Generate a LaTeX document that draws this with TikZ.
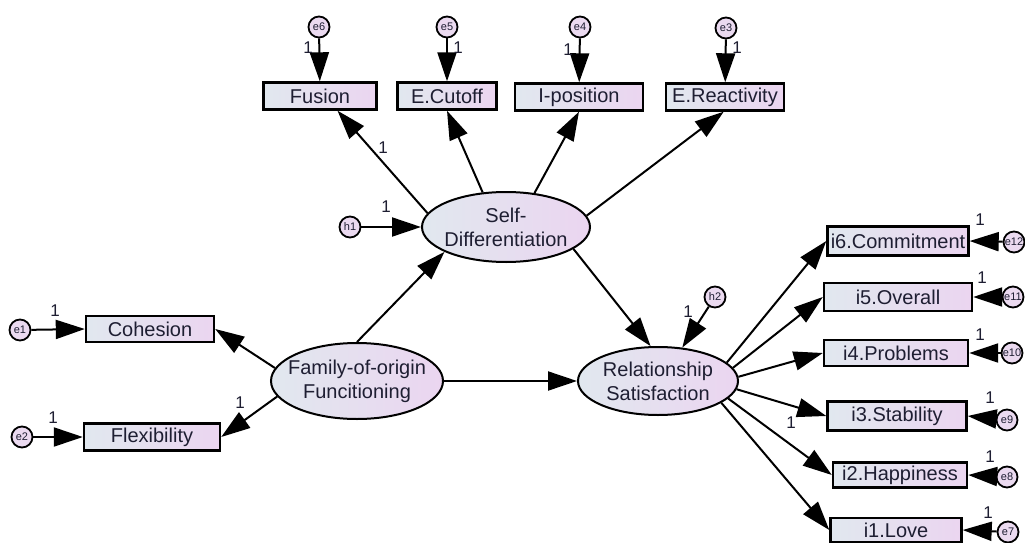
\documentclass[tikz,border=0pt]{standalone}
\usepackage{fontspec}
\setmainfont{Liberation Sans}
\usetikzlibrary{arrows.meta,shapes.geometric}
\definecolor{boxL}{HTML}{E1E8EF}
\definecolor{boxR}{HTML}{EBD5F0}
\definecolor{errF}{HTML}{EBDAF0}
\definecolor{txt}{HTML}{1E1E32}
\begin{document}
\begin{tikzpicture}[x=1pt,y=-1pt,
  obs/.style={draw=black, line width=2.4pt, left color=boxL, right color=boxR,
    inner sep=0pt, font=\fontsize{20}{24}\selectfont, text=txt},
  lat/.style={ellipse, draw=black, line width=2pt, left color=boxL, right color=boxR,
    inner xsep=-14pt, inner ysep=0pt, align=center, font=\fontsize{20}{24}\selectfont, text=txt},
  err/.style={circle, draw=black, line width=1.8pt, fill=errF, minimum size=21pt,
    inner sep=0pt, font=\fontsize{11}{12}\selectfont, text=txt},
  pth/.style={line width=2pt, -{Triangle[length=29pt,width=19pt]}},
  one/.style={inner sep=0pt, font=\fontsize{17}{17}\selectfont, text=txt}]
\useasboundingbox (0,0) rectangle (1025,543);
\clip (0,0) rectangle (1025,543);
\fill[white] (0,0) rectangle (1025,543);

% latent variables
\node[lat, minimum width=168pt, minimum height=70pt] (sd) at (506,227) {Self-\\Differentiation};
\node[lat, minimum width=172pt, minimum height=76pt] (fam) at (357,381) {Family-of-origin\\Funcitioning};
\node[lat, minimum width=160pt, minimum height=68pt] (rs) at (658,381) {Relationship\\Satisfaction};

% top indicators
\node[obs, minimum width=113pt, minimum height=27pt] (fus) at (320,96) {Fusion};
\node[obs, minimum width=99pt, minimum height=27pt] (ecut) at (447,96) {E.Cutoff};
\node[obs, minimum width=128pt, minimum height=27pt] (ipos) at (579,97) {I-position};
\node[obs, minimum width=118pt, minimum height=27pt] (ereac) at (725,97) {E.Reactivity};

% left indicators
\node[obs, minimum width=128pt, minimum height=26pt] (coh) at (150,329) {Cohesion};
\node[obs, minimum width=136pt, minimum height=27pt] (flex) at (152,437) {Flexibility};

% right indicators
\node[obs, minimum width=141pt, minimum height=29pt] (i6) at (898,241) {i6.Commitment};
\node[obs, minimum width=148pt, minimum height=28pt] (i5) at (898,297) {i5.Overall};
\node[obs, minimum width=144pt, minimum height=26pt] (i4) at (896,353) {i4.Problems};
\node[obs, minimum width=139pt, minimum height=29pt] (i3) at (897,416) {i3.Stability};
\node[obs, minimum width=134pt, minimum height=25pt] (i2) at (900,475) {i2.Happiness};
\node[obs, minimum width=131pt, minimum height=24pt] (i1) at (896,530) {i1.Love};

% error / disturbance terms
\node[err] (e6) at (319,27) {e6};
\node[err] (e5) at (447,27) {e5};
\node[err] (e4) at (580,27) {e4};
\node[err] (e3) at (726,28) {e3};
\node[err] (e1) at (20,330) {e1};
\node[err] (e2) at (22,437) {e2};
\node[err] (h1) at (350,227) {h1};
\node[err] (h2) at (715,297) {h2};
\node[err] (e12) at (1014,242) {e12};
\node[err] (e11) at (1013,297) {e11};
\node[err] (e10) at (1012,353) {e10};
\node[err] (e9) at (1007,420) {e9};
\node[err] (e8) at (1007,477) {e8};
\node[err] (e7) at (1008,532) {e7};

% paths
\draw[pth] (e6) -- (fus);
\draw[pth] (e5) -- (ecut);
\draw[pth] (e4) -- (ipos);
\draw[pth] (e3) -- (ereac);
\draw[pth] (sd.170) -- (fus.-40);
\draw[pth] (sd.124) -- (ecut.south);
\draw[pth] (sd.50) -- (ipos.south);
\draw[pth] (sd.8) -- (ereac.-95);
\draw[pth] (h1) -- (sd.west);
\draw[pth] (fam.north) -- (sd.202);
\draw[pth] (fam.171) -- (coh.east);
\draw[pth] (fam.191) -- (flex.east);
\draw[pth] (e1) -- (coh.west);
\draw[pth] (e2) -- (flex.west);
\draw[pth] (fam) -- (rs);
\draw[pth] (sd.-18) -- (rs.102);
\draw[pth] (h2) -- (rs.54);
\draw[pth] (rs.15) -- (i6.west);
\draw[pth] (rs.10) -- (i5.west);
\draw[pth] (rs.3) -- (i4.west);
\draw[pth] (rs.-6) -- (i3.west);
\draw[pth] (rs.-14) -- (i2.west);
\draw[pth] (rs.-19) -- (i1.west);
\draw[pth] (e12) -- (i6.east);
\draw[pth] (e11) -- (i5.east);
\draw[pth] (e10) -- (i4.east);
\draw[pth] (e9) -- (i3.east);
\draw[pth] (e8) -- (i2.east);
\draw[pth] (e7) -- (i1.east);

% fixed-parameter labels
\node[one] (l6) at (308,48) {1};
\node[one] (l5) at (458,48) {1};
\node[one] (l4) at (568,50) {1};
\node[one] (l3) at (737,48) {1};
\node[one] (lfus) at (383,148) {1};
\node[one] (lh1) at (386,207) {1};
\node[one] (le1) at (55,311) {1};
\node[one] (le2) at (53,418) {1};
\node[one] (lflex) at (240,403) {1};
\node[one] (lh2) at (688,312) {1};
\node[one] (lrs) at (791,423) {1};
\node[one] (l12) at (980,220) {1};
\node[one] (l11) at (982,278) {1};
\node[one] (l10) at (980,335) {1};
\node[one] (l9) at (990,398) {1};
\node[one] (l8) at (990,457) {1};
\node[one] (l7) at (988,513) {1};
\end{tikzpicture}
\end{document}
